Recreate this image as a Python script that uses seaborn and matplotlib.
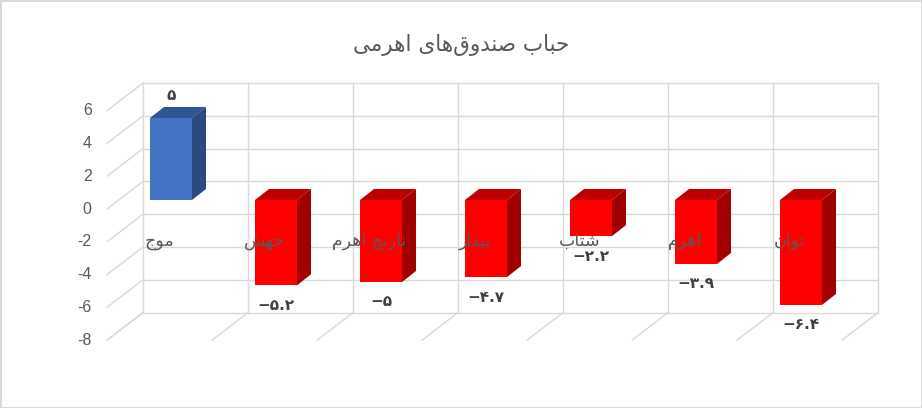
import pandas as pd
import seaborn as sns
import matplotlib.pyplot as plt
from matplotlib.patches import Polygon

# data
funds = ['موج', 'جهش', 'نارنج اهرم', 'بیدار', 'شتاب', 'اهرم', 'توان']
bubble = [5, -5.2, -5, -4.7, -2.2, -3.9, -6.4]
yticks = [6, 4, 2, 0, -2, -4, -6, -8]
title = 'حباب صندوق\u200cهای اهرمی'

# matplotlib does no arabic shaping, so pick the presentation forms by hand
# (isolated, final, initial, medial) - initial None means right-joining only
FORMS = {
    'ا': ('\uFE8D', '\uFE8E', None, None),
    'ب': ('\uFE8F', '\uFE90', '\uFE91', '\uFE92'),
    'ت': ('\uFE95', '\uFE96', '\uFE97', '\uFE98'),
    'ج': ('\uFE9D', '\uFE9E', '\uFE9F', '\uFEA0'),
    'ح': ('\uFEA1', '\uFEA2', '\uFEA3', '\uFEA4'),
    'د': ('\uFEA9', '\uFEAA', None, None),
    'ر': ('\uFEAD', '\uFEAE', None, None),
    'ش': ('\uFEB5', '\uFEB6', '\uFEB7', '\uFEB8'),
    'ص': ('\uFEB9', '\uFEBA', '\uFEBB', '\uFEBC'),
    'ق': ('\uFED5', '\uFED6', '\uFED7', '\uFED8'),
    'م': ('\uFEE1', '\uFEE2', '\uFEE3', '\uFEE4'),
    'ن': ('\uFEE5', '\uFEE6', '\uFEE7', '\uFEE8'),
    'ه': ('\uFEE9', '\uFEEA', '\uFEEB', '\uFEEC'),
    'و': ('\uFEED', '\uFEEE', None, None),
    'ی': ('\uFBFC', '\uFBFD', '\uFBFE', '\uFBFF'),
}


def shape(text):
    out = []
    for i, ch in enumerate(text):
        if ch not in FORMS:
            out.append(ch)
            continue
        prev = text[i - 1] if i > 0 else ''
        nxt = text[i + 1] if i + 1 < len(text) else ''
        jp = prev in FORMS and FORMS[prev][2] is not None
        jn = FORMS[ch][2] is not None and nxt in FORMS
        iso, fin, ini, med = FORMS[ch]
        out.append(med if (jp and jn) else fin if jp else ini if jn else iso)
    return ''.join(c for c in reversed(out) if c != '\u200c')


fa_digits = str.maketrans('0123456789-', '۰۱۲۳۴۵۶۷۸۹−')
value_labels = [('%g' % v).translate(fa_digits) for v in bubble]

df = pd.DataFrame({'fund': [shape(f) for f in funds], 'bubble': bubble})
front = ['#4472C4' if v > 0 else '#FF0000' for v in bubble]
topc = ['#2F5597' if v > 0 else '#C00000' for v in bubble]
sidec = ['#2B4A80' if v > 0 else '#A00000' for v in bubble]

sns.set_style('white')
plt.rcParams['font.family'] = ['DejaVu Sans']

W, H = 922, 408
fig = plt.figure(figsize=(W / 100, H / 100), dpi=100)
fig.patch.set_edgecolor('#d9d9d9')
fig.patch.set_linewidth(2)

# axes = plane of the bars' front faces
px_x, px_y = 105.0, 16.4
ax = fig.add_axes([118.5 / W, (H - 331.2) / H, 7 * px_x / W, 14 * px_y / H])
sns.barplot(data=df, x='fund', y='bubble', hue='fund', palette=front,
            legend=False, width=0.4, linewidth=0, saturation=1, ax=ax)
ax.set_xlim(-0.5, 6.5)
ax.set_ylim(-8, 6)
for s in ax.spines.values():
    s.set_visible(False)
ax.set_xlabel('')
ax.set_ylabel('')
ax.set_xticks([])

# pixel offsets -> data units
def dx(p):
    return p / px_x


def dy(p):
    return p / px_y


back = (dx(24.5), dy(18.6))
frnt = (dx(-11.5), dy(-9))
gc = '#d9d9d9'
glw = 1.0
x0, x1 = -0.5, 6.5
for y in yticks:
    ax.plot([x0 + back[0], x1 + back[0]], [y + back[1]] * 2, color=gc, lw=glw, zorder=0, clip_on=False)
    ax.plot([x0 + back[0], x0 + frnt[0]], [y + back[1], y + frnt[1]], color=gc, lw=glw, zorder=0, clip_on=False)
for k in range(8):
    xb = x0 + k
    ax.plot([xb + back[0]] * 2, [-8 + back[1], 6 + back[1]], color=gc, lw=glw, zorder=0, clip_on=False)
    ax.plot([xb + back[0], xb + frnt[0]], [-8 + back[1], -8 + frnt[1]], color=gc, lw=glw, zorder=0, clip_on=False)

# fake depth for each bar, built from the seaborn patches
ddx, ddy = dx(14), dy(11)
for p, ct, cs in zip(ax.patches, topc, sidec):
    xa = p.get_x()
    xb = xa + p.get_width()
    top = max(p.get_y(), p.get_y() + p.get_height())
    bot = min(p.get_y(), p.get_y() + p.get_height())
    ax.add_patch(Polygon([(xa, top), (xa + ddx, top + ddy), (xb + ddx, top + ddy), (xb, top)],
                         closed=True, fc=ct, ec='none', zorder=2))
    ax.add_patch(Polygon([(xb, top), (xb + ddx, top + ddy), (xb + ddx, bot + ddy), (xb, bot)],
                         closed=True, fc=cs, ec='none', zorder=2))

# y tick labels sit on the front plane
ax.set_yticks([])
for y in yticks:
    ax.annotate(str(y), (x0 + frnt[0], y + frnt[1]), xytext=(-11, 0), textcoords='offset points',
                ha='right', va='center', fontsize=11.5, color='#595959', family='Liberation Sans',
                annotation_clip=False)

# category names on the front plane
for i, name in enumerate(df['fund']):
    ax.text(i + frnt[0], -2.5, name, ha='center', va='center', fontsize=12.5,
            color='#595959', zorder=6)

# value labels
for i, (v, lab) in enumerate(zip(bubble, value_labels)):
    off = 23 if v > 0 else -20
    ax.annotate(lab, (i, v), xytext=(0, off * 0.72), textcoords='offset points',
                ha='center', va='center', fontsize=11, fontweight='bold', color='#404040',
                zorder=6, annotation_clip=False)

fig.text(461 / W, 1 - 45 / H, shape(title), ha='center', va='center', fontsize=15.5, color='#595959')

fig.savefig('out.png', dpi=100)
